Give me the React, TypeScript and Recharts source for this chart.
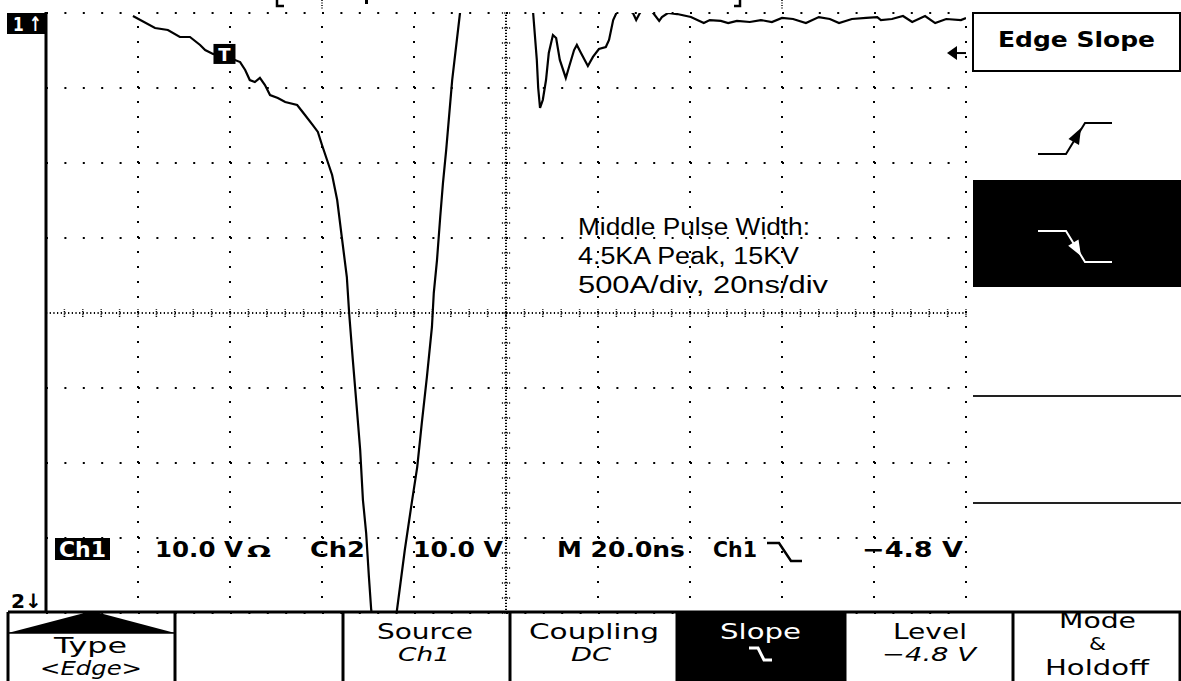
import React from 'react';
import { LineChart, Line, XAxis, YAxis, ReferenceLine, ReferenceDot } from 'recharts';

// trace: time in ns (20 ns/div), current in A (500 A/div)
const TRACE_T = [
  18.9, 23.7, 26.5, 29.1, 31.3, 33.5, 34.6, 36.3, 38.9, 42.2, 43.3, 44.3, 45.4, 46.5, 47.6, 48.7,
  50.4, 52.0, 54.6, 56.3, 58.0, 59.1, 60.0, 61.1, 62.2, 63.3, 64.3, 65.4, 65.9, 66.7, 67.6, 68.3,
  68.9, 69.6, 70.2, 70.7, 73.7, 76.3, 78.0, 79.6, 80.7, 81.7, 82.8, 83.9, 84.3, 85.0, 85.7, 86.3,
  87.0, 88.3, 90.0, 98.0, 105.9, 106.7, 107.0, 107.4, 108.0, 108.7, 109.3, 110.2, 110.9, 111.7,
  113.0, 113.7, 114.8, 115.4, 116.3, 117.8, 118.9, 120.2, 121.7, 122.4, 123.3, 124.8, 127.6, 128.3,
  129.1, 130.4, 132.0, 133.3, 133.9, 135.2, 137.2, 140.2, 143.0, 144.3, 146.7, 148.3, 150.2, 153.0,
  155.4, 157.8, 160.0, 162.4, 165.2, 168.0, 170.4, 172.4, 175.2, 178.3, 180.7, 181.5, 183.9, 186.3,
  188.3, 191.1, 193.3, 195.7, 198.9, 200,
];
const TRACE_A = [
  1980, 1900, 1887, 1840, 1840, 1787, 1753, 1727, 1713, 1673, 1620, 1553, 1540, 1567, 1520, 1453,
  1433, 1407, 1387, 1320, 1253, 1207, 1120, 1020, 920, 753, 507, 240, 0, -313, -647, -913,
  -1247, -1467, -1760, -1980, -2510, -1980, -1580, -1247, -1027, -733, -427, -93, 133, 353, 640, 867,
  1087, 1553, 2000, 2620, 2000, 1687, 1500, 1367, 1420, 1553, 1733, 1853, 1833, 1687,
  1567, 1640, 1753, 1787, 1733, 1647, 1707, 1760, 1773, 1820, 1953, 2053, 2000, 1953,
  2000, 2053, 2000, 1947, 1973, 2000, 1993, 1973, 1933, 1953, 1947, 1933, 1947, 1940,
  1953, 1940, 1967, 1960, 1933, 1973, 1960, 1933, 1960, 1967, 1973, 1953, 1960, 1980,
  1940, 1980, 1933, 1960, 1953, 1967,
];

const MAJOR_T = [0, 20, 40, 60, 80, 100, 120, 140, 160, 180, 200];
const MAJOR_A = [-2000, -1500, -1000, -500, 0, 500, 1000, 1500, 2000];
const MINOR_T = Array.from({ length: 51 }, (_, i) => i * 4);
const MINOR_A = Array.from({ length: 41 }, (_, i) => -2000 + i * 100);

const TRIGGER = { t: 38.8, a: 1727 };
const LEVEL_A = 1733;

const data = TRACE_T.map((t, i) => ({ t, a: TRACE_A[i] }));

const W = 1181;
const H = 681;
const TEK = '"DejaVu Sans", Verdana, sans-serif';
const ARIAL = '"Liberation Sans", Arial, sans-serif';

const Txt = ({ x, y, w, size, fill = '#000', bold = false, italic = false, family = TEK, children }: any) => (
  <text
    x={x}
    y={y}
    textLength={w}
    lengthAdjust="spacingAndGlyphs"
    fontSize={size}
    fontFamily={family}
    fontWeight={bold ? 'bold' : 'normal'}
    fontStyle={italic ? 'italic' : 'normal'}
    fill={fill}
  >
    {children}
  </text>
);

const TriggerMark = (p: any) => (
  <g>
    <rect x={p.cx - 11} y={p.cy - 10} width={22} height={20} fill="#000" />
    <text x={p.cx} y={p.cy + 7} fill="#fff" fontFamily={TEK} fontWeight="bold" fontSize={18} textAnchor="middle">T</text>
  </g>
);

const LevelMark = (p: any) => (
  <g>
    <polygon points={`${p.cx - 19},${p.cy} ${p.cx - 9},${p.cy - 7} ${p.cx - 9},${p.cy + 7}`} fill="#000" />
    <line x1={p.cx - 9} y1={p.cy} x2={p.cx} y2={p.cy} stroke="#000" strokeWidth={2} />
  </g>
);

const border = { stroke: '#000', strokeWidth: 2 };
const tickStyle = { stroke: '#000', strokeWidth: 1.5 };

const Scope = () => (
  <LineChart width={W} height={H} data={data} margin={{ top: 13, left: 46, right: 215, bottom: 68 }}>
    <XAxis xAxisId="t" dataKey="t" type="number" domain={[0, 200]} ticks={MAJOR_T} interval={0} allowDataOverflow mirror height={0} tick={false} tickLine={false} axisLine={false} />
    <YAxis yAxisId="a" type="number" domain={[-2000, 2000]} ticks={MAJOR_A} interval={0} allowDataOverflow mirror width={0} tick={false} tickLine={false} axisLine={false} />
    <XAxis xAxisId="top" orientation="top" type="number" domain={[0, 200]} ticks={MINOR_T} interval={0} allowDataOverflow mirror height={0} tick={false} tickSize={3} tickLine={tickStyle} axisLine={border} />
    <XAxis xAxisId="bottom" orientation="bottom" type="number" domain={[0, 200]} ticks={MINOR_T} interval={0} allowDataOverflow mirror height={0} tick={false} tickSize={3} tickLine={tickStyle} axisLine={border} />
    <YAxis yAxisId="left" orientation="left" type="number" domain={[-2000, 2000]} ticks={MINOR_A} interval={0} allowDataOverflow mirror width={0} tick={false} tickSize={3} tickLine={tickStyle} axisLine={{ stroke: '#000', strokeWidth: 3 }} />
    <YAxis yAxisId="right" orientation="right" type="number" domain={[-2000, 2000]} ticks={MINOR_A} interval={0} allowDataOverflow mirror width={0} tick={false} tickSize={3} tickLine={tickStyle} axisLine={border} />

    {/* dotted graticule: dots every 1/5 division */}
    {MAJOR_A.map((a) => (
      <ReferenceLine key={`ga${a}`} xAxisId="t" yAxisId="a" y={a} stroke="#000" strokeWidth={2} strokeDasharray={a === 0 ? '1.2 2.48' : '2 16.4'} />
    ))}
    {MAJOR_T.map((t) => (
      <ReferenceLine key={`gt${t}`} xAxisId="t" yAxisId="a" x={t} stroke="#000" strokeWidth={2} strokeDasharray={t === 100 ? '1.2 1.8' : '2 13'} />
    ))}
    {MINOR_T.map((t) => (
      <ReferenceLine key={`ct${t}`} xAxisId="t" yAxisId="a" segment={[{ x: t, y: -27 }, { x: t, y: 27 }]} stroke="#000" strokeWidth={1.5} strokeDasharray="1.2 1.2" />
    ))}
    {MINOR_A.map((a) => (
      <ReferenceLine key={`ca${a}`} xAxisId="t" yAxisId="a" segment={[{ x: 99.1, y: a }, { x: 100.9, y: a }]} stroke="#000" strokeWidth={1.5} strokeDasharray="1.2 1.2" />
    ))}

    <Line xAxisId="t" yAxisId="a" type="linear" dataKey="a" stroke="#000" strokeWidth={2.2} dot={false} isAnimationActive={false} />

    <ReferenceDot xAxisId="t" yAxisId="a" x={TRIGGER.t} y={TRIGGER.a} shape={TriggerMark} />
    <ReferenceDot xAxisId="t" yAxisId="a" x={200} y={LEVEL_A} shape={LevelMark} />
  </LineChart>
);

const Chrome = () => (
  <svg width={W} height={H} style={{ position: 'absolute', left: 0, top: 0, pointerEvents: 'none' }}>
    {/* screen frame, left edge is heavier */}
    <line x1={46} y1={12} x2={46} y2={613} stroke="#000" strokeWidth={3} />

    {/* record view marks, cut off at the top */}
    <path d="M277 0 V6 H284" stroke="#000" strokeWidth={2.5} fill="none" />
    <line x1={322} y1={0} x2={322} y2={9} stroke="#000" strokeWidth={1.5} strokeDasharray="1 1.5" />
    <rect x={365} y={0} width={3} height={4} fill="#000" />
    <path d="M734 6 H740 V0" stroke="#000" strokeWidth={2.5} fill="none" />
    <line x1={782} y1={0} x2={782} y2={9} stroke="#000" strokeWidth={1.5} strokeDasharray="1 1.5" />

    {/* channel markers */}
    <rect x={7} y={13} width={40} height={21} fill="#000" />
    <Txt x={13} y={31} w={29} size={20} bold fill="#fff">1 ↑</Txt>
    <Txt x={11} y={608} w={31} size={20} bold>2↓</Txt>

    {/* readout */}
    <rect x={55} y={538} width={55} height={22} fill="#000" />
    <Txt x={59} y={557} w={47} size={22} bold fill="#fff">Ch1</Txt>
    <Txt x={155} y={557} w={88} size={22} bold>10.0 V</Txt>
    <Txt x={247} y={557} w={24} size={15} bold>Ω</Txt>
    <Txt x={310} y={557} w={55} size={22} bold>Ch2</Txt>
    <Txt x={413} y={557} w={90} size={22} bold>10.0 V</Txt>
    <Txt x={557} y={557} w={128} size={22} bold>M 20.0ns</Txt>
    <Txt x={713} y={557} w={44} size={22} bold>Ch1</Txt>
    <path d="M767 543 H779 L791 561 H802" stroke="#000" strokeWidth={2.5} fill="none" />
    <Txt x={862} y={557} w={101} size={22} bold>−4.8 V</Txt>

    {/* annotation */}
    <Txt x={578} y={235} w={232} size={23} family={ARIAL}>Middle Pulse Width:</Txt>
    <Txt x={578} y={264} w={221} size={23} family={ARIAL}>4.5KA Peak, 15KV</Txt>
    <Txt x={578} y={293} w={250} size={23} family={ARIAL}>500A/div, 20ns/div</Txt>

    {/* side menu */}
    <rect x={973} y={13} width={207} height={58} fill="#fff" stroke="#000" strokeWidth={2} />
    <Txt x={998} y={47} w={157} size={21} bold>Edge Slope</Txt>
    <polyline points="1038,154 1066,154 1085,123 1112,123" fill="none" stroke="#000" strokeWidth={2} />
    <polygon points="1081,128 1079,145 1068.5,139" fill="#000" />
    <rect x={973} y={180} width={208} height={107} fill="#000" />
    <polyline points="1038,231 1066,231 1085,262 1112,262" fill="none" stroke="#fff" strokeWidth={2} />
    <polygon points="1081,256 1078.5,239.5 1068.2,245.7" fill="#fff" />
    <line x1={973} y1={396} x2={1181} y2={396} stroke="#222" strokeWidth={2} />
    <line x1={973} y1={503} x2={1181} y2={503} stroke="#222" strokeWidth={2} />

    {/* bottom menu */}
    <rect x={677} y={612} width={168} height={69} fill="#000" />
    <line x1={8} y1={612} x2={1181} y2={612} stroke="#000" strokeWidth={3} />
    {[8, 175, 343, 510, 677, 845, 1013, 1180].map((x) => (
      <line key={x} x1={x} y1={612} x2={x} y2={681} stroke="#000" strokeWidth={3} />
    ))}
    <polygon points="8,633 92,611 175,633" fill="#000" />
    <line x1={8} y1={633} x2={175} y2={633} stroke="#000" strokeWidth={1.5} />
    <Txt x={54} y={653} w={73} size={22}>Type</Txt>
    <Txt x={40} y={675} w={102} size={20} italic>&lt;Edge&gt;</Txt>
    <Txt x={377} y={639} w={96} size={22}>Source</Txt>
    <Txt x={398} y={661} w={52} size={20} italic>Ch1</Txt>
    <Txt x={529} y={639} w={130} size={22}>Coupling</Txt>
    <Txt x={571} y={661} w={40} size={20} italic>DC</Txt>
    <Txt x={720} y={639} w={81} size={22} fill="#fff">Slope</Txt>
    <path d="M749 648 H758 L764 660 H772" stroke="#fff" strokeWidth={3} fill="none" />
    <Txt x={893} y={639} w={74} size={22}>Level</Txt>
    <Txt x={882} y={661} w={94} size={20} italic>−4.8 V</Txt>
    <Txt x={1059} y={628} w={77} size={22}>Mode</Txt>
    <Txt x={1089} y={650} w={17} size={17}>&amp;</Txt>
    <Txt x={1045} y={675} w={104} size={21}>Holdoff</Txt>
  </svg>
);

export default function App() {
  return (
    <div style={{ position: 'fixed', left: 0, top: 0, width: W, height: H, background: '#fff', overflow: 'hidden' }}>
      <div style={{ position: 'absolute', left: 0, top: 0 }}>
        <Scope />
      </div>
      <Chrome />
    </div>
  );
}
